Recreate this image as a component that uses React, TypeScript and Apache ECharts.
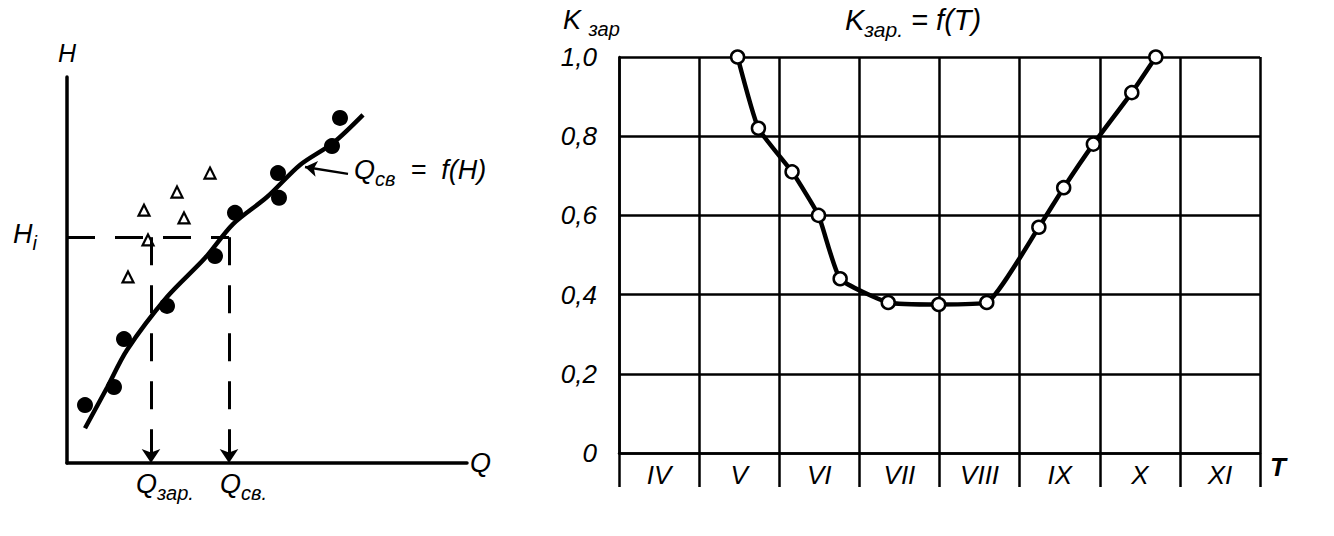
import React, { useEffect, useRef } from "react";
import * as echarts from "echarts";

// ---- Left panel: H vs Q ----
const qFilled = [4.5, 11.75, 14.25, 25, 37, 42, 52.75, 53, 66.25, 68.25];
const hFilled = [15, 19.7, 32.1, 40.7, 53.6, 64.8, 75.1, 68.7, 82.1, 89.4];
const qTri = [15.25, 20.25, 19.25, 27.5, 29.25, 35.75];
const hTri = [48.2, 57.8, 65.5, 70.2, 63.5, 75.1];
const curveQ = [4.5, 10, 15, 25, 34.5, 41.5, 50, 58.25, 66.5, 74];
const curveH = [9, 19.5, 29.3, 43, 53.1, 61.9, 68.9, 77.2, 82.9, 90.2];
const hLevel = 58.5;
const qZar = 21;
const qSv = 40.5;
const arrowFrom = [70.25, 74.9];
const arrowTo = [59.5, 76.7];

// ---- Right panel: K vs T ----
const months = ["IV", "V", "VI", "VII", "VIII", "IX", "X", "XI"];
const kTime = [1.48, 1.74, 2.16, 2.49, 2.76, 3.36, 3.99, 4.59, 5.24, 5.55, 5.92, 6.4, 6.7];
const kValue = [1.0, 0.82, 0.71, 0.6, 0.44, 0.38, 0.375, 0.38, 0.57, 0.67, 0.78, 0.91, 1.0];
const yTickLabels = ["0", "0,2", "0,4", "0,6", "0,8", "1,0"];

const FONT = "'Liberation Sans Narrow', 'Liberation Sans', sans-serif";

const mkRich = (big: number, sub: number, pad: number) => ({
  m: { fontSize: big, fontStyle: "italic", fontWeight: "normal", fontFamily: FONT, color: "#000", padding: [0, 0, pad, 0], verticalAlign: "bottom" },
  s: { fontSize: sub, fontStyle: "italic", fontWeight: "normal", fontFamily: FONT, color: "#000", verticalAlign: "bottom" },
});
const rich = mkRich(27, 20, 6);
const titleRich = mkRich(29, 21, 6);

const txt = (x: number, y: number, text: string) => ({
  type: "text",
  x,
  y,
  style: { text, rich, fill: "#000" },
});

export default function App() {
  const ref = useRef<HTMLDivElement>(null);
  useEffect(() => {
    document.body.style.margin = "0";
    const chart = echarts.init(ref.current!, null, { renderer: "svg" });
    const black = "#000";
    const zip = (a: number[], b: number[]) => a.map((v, i) => [v, b[i]]);
    chart.setOption({
      animation: false,
      backgroundColor: "#fff",
      textStyle: { fontFamily: FONT },
      title: {
        left: 840,
        top: 0,
        text: "{m|K}{s|зар.}{m| = f(T)}",
        textStyle: { rich: titleRich, fontWeight: "normal" },
      },
      grid: [
        { left: 67, top: 77, width: 400, height: 386 },
        { left: 619, top: 57, width: 641, height: 396 },
      ],
      xAxis: [
        {
          gridIndex: 0,
          type: "value",
          min: 0,
          max: 100,
          axisLine: { show: true, lineStyle: { color: black, width: 3.5 } },
          axisTick: { show: false },
          axisLabel: { show: false },
          splitLine: { show: false },
          name: "Q",
          nameLocation: "end",
          nameGap: 3,
          nameTextStyle: { fontSize: 27, fontStyle: "italic", color: black, fontFamily: FONT },
        },
        {
          gridIndex: 1,
          type: "category",
          data: months,
          boundaryGap: true,
          axisLine: { show: true, lineStyle: { color: black, width: 2.5 } },
          axisTick: { show: true, interval: 0, length: 34, lineStyle: { color: black, width: 2.5 } },
          axisLabel: { interval: 0, margin: 9, fontSize: 26, fontStyle: "italic", color: black, fontFamily: FONT },
          splitLine: { show: true, interval: 0, lineStyle: { color: black, width: 2.5 } },
          name: "T",
          nameLocation: "end",
          nameGap: 10,
          nameTextStyle: { fontSize: 26, fontStyle: "italic", fontWeight: "bold", color: black, fontFamily: FONT, verticalAlign: "top", padding: [1, 0, 0, 0] },
        },
        { gridIndex: 1, type: "value", min: 0, max: 8, show: false },
      ],
      yAxis: [
        {
          gridIndex: 0,
          type: "value",
          min: 0,
          max: 100,
          axisLine: { show: true, lineStyle: { color: black, width: 3.5 } },
          axisTick: { show: false },
          axisLabel: { show: false },
          splitLine: { show: false },
          name: "H",
          nameLocation: "end",
          nameGap: 12,
          nameTextStyle: { fontSize: 25, fontStyle: "italic", color: black, fontFamily: FONT },
        },
        {
          gridIndex: 1,
          type: "value",
          min: 0,
          max: 1,
          interval: 0.2,
          axisLine: { show: true, lineStyle: { color: black, width: 2.5 } },
          axisTick: { show: false },
          axisLabel: {
            margin: 22,
            fontSize: 26,
            fontStyle: "italic",
            color: black,
            fontFamily: FONT,
            formatter: (_v: number, i: number) => yTickLabels[i],
          },
          splitLine: { show: true, lineStyle: { color: black, width: 2.5 } },
        },
      ],
      series: [
        {
          type: "line",
          xAxisIndex: 0,
          yAxisIndex: 0,
          data: zip(curveQ, curveH),
          smooth: 0.3,
          symbol: "none",
          lineStyle: { color: black, width: 4.5 },
          z: 2,
        },
        {
          type: "scatter",
          xAxisIndex: 0,
          yAxisIndex: 0,
          data: zip(qFilled, hFilled),
          symbol: "circle",
          symbolSize: 16,
          itemStyle: { color: black, opacity: 1 },
          z: 3,
        },
        {
          type: "scatter",
          xAxisIndex: 0,
          yAxisIndex: 0,
          data: zip(qTri, hTri),
          symbol: "triangle",
          symbolSize: 11,
          itemStyle: { color: "#fff", borderColor: black, borderWidth: 2.2, opacity: 1 },
          z: 3,
          markLine: {
            silent: true,
            animation: false,
            symbol: ["none", "arrow"],
            symbolSize: 14,
            label: { show: false },
            lineStyle: { color: black, width: 3, type: [28, 20] },
            data: [
              [
                { coord: [0, hLevel], symbol: "none" },
                { coord: [qSv, hLevel], symbol: "none" },
              ],
              [{ coord: [qZar, hLevel] }, { coord: [qZar, 0] }],
              [{ coord: [qSv, hLevel] }, { coord: [qSv, 0] }],
            ],
          },
        },
        {
          type: "line",
          xAxisIndex: 0,
          yAxisIndex: 0,
          data: [],
          markLine: {
            silent: true,
            animation: false,
            symbol: ["none", "arrow"],
            symbolSize: 12,
            label: { show: false },
            lineStyle: { color: black, width: 2.5, type: "solid" },
            data: [[{ coord: arrowFrom }, { coord: arrowTo }]],
          },
        },
        {
          type: "line",
          xAxisIndex: 2,
          yAxisIndex: 1,
          data: zip(kTime, kValue),
          smooth: 0.15,
          symbol: "circle",
          symbolSize: 13,
          showSymbol: true,
          itemStyle: { color: "#fff", borderColor: black, borderWidth: 2.5, opacity: 1 },
          lineStyle: { color: black, width: 4.5 },
          z: 4,
        },
      ],
      graphic: [
        txt(13, 220, "{m|H}{s|i}"),
        txt(136, 470, "{m|Q}{s|зар.}"),
        txt(220, 470, "{m|Q}{s|св.}"),
        txt(354, 156, "{m|Q}{s|св}{m|  =  f(H)}"),
        txt(563, 6, "{m|K }{s|зар}"),
      ],
    });
    return () => chart.dispose();
  }, []);
  return <div ref={ref} style={{ width: 1334, height: 536 }} />;
}
